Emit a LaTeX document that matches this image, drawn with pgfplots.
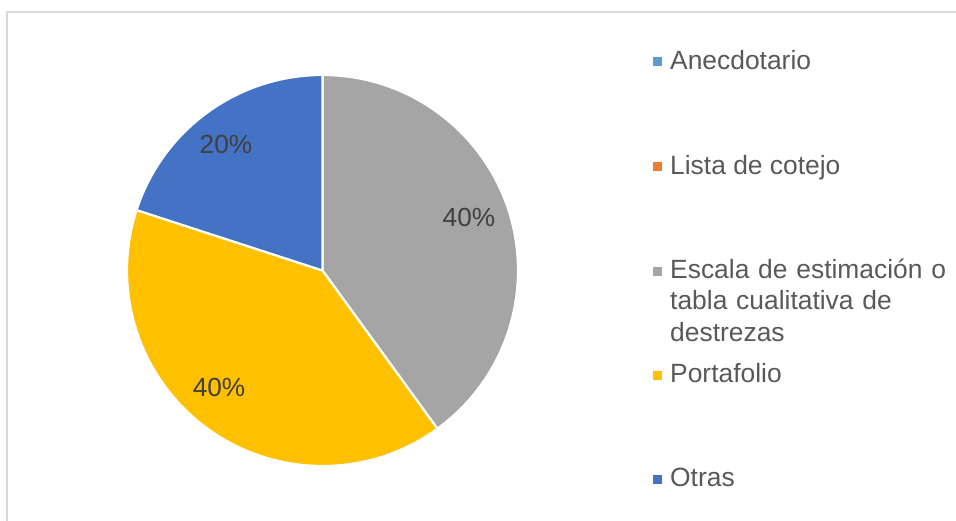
\documentclass[border=0pt]{standalone}
\usepackage{pgfplots}
\usepackage{pgfplotstable}
\pgfplotsset{compat=1.18}
\usepackage{fontspec}
\setmainfont{Liberation Sans}
\definecolor{cAnec}{HTML}{5B9BD5}
\definecolor{cLista}{HTML}{ED7D31}
\definecolor{cEscala}{HTML}{A5A5A5}
\definecolor{cPorta}{HTML}{FFC000}
\definecolor{cOtras}{HTML}{4472C4}
\definecolor{legtext}{HTML}{595959}
\definecolor{lbltext}{HTML}{404040}
\definecolor{frame}{HTML}{D9D9D9}

% share (%) of each instrument; slices drawn clockwise from 12 o'clock
\pgfplotstableread{
name      value
Anecdotario 0
Lista       0
Escala      40
Portafolio  40
Otras       20
}\piedata

\begin{document}
\begin{tikzpicture}[x=1pt,y=1pt]
\useasboundingbox (0,0) rectangle (956,521);
\fill[white] (0,0) rectangle (956,521);
\draw[frame, line width=1.6pt] (7,-5) -- (7,509) -- (962,509);

\pgfplotstablegetelem{2}{value}\of\piedata \let\vEsc\pgfplotsretval
\pgfplotstablegetelem{3}{value}\of\piedata \let\vPor\pgfplotsretval
\pgfplotstablegetelem{4}{value}\of\piedata \let\vOtr\pgfplotsretval
\pgfmathsetmacro{\aA}{90}
\pgfmathsetmacro{\aB}{\aA-3.6*\vEsc}
\pgfmathsetmacro{\aC}{\aB-3.6*\vPor}
\pgfmathsetmacro{\aD}{\aC-3.6*\vOtr}

\begin{axis}[
  at={(322.5pt,250.5pt)}, anchor=origin,
  x=195.5pt, y=195.5pt,
  xmin=-1, xmax=1, ymin=-1, ymax=1,
  hide axis, clip=false,
]
\addplot[fill=cEscala, draw=white, line width=2.2pt, line join=round]
  coordinates {(0,0) (0,1)}
  arc[start angle=\aA, end angle=\aB, radius=195.5pt] -- cycle;
\addplot[fill=cPorta, draw=white, line width=2.2pt, line join=round]
  coordinates {(0,0) (0.587785,-0.809017)}
  arc[start angle=\aB, end angle=\aC, radius=195.5pt] -- cycle;
\addplot[fill=cOtras, draw=white, line width=2.2pt, line join=round]
  coordinates {(0,0) (-0.951057,0.309017)}
  arc[start angle=\aC, end angle=\aD, radius=195.5pt] -- cycle;

\node[text=lbltext, font=\fontsize{26.2}{30}\selectfont, inner sep=0pt] at (axis cs:0.749,0.271) {\vEsc\%};
\node[text=lbltext, font=\fontsize{26.2}{30}\selectfont, inner sep=0pt] at (axis cs:-0.529,-0.596) {\vPor\%};
\node[text=lbltext, font=\fontsize{26.2}{30}\selectfont, inner sep=0pt] at (axis cs:-0.494,0.642) {\vOtr\%};
\end{axis}

% legend
\begin{scope}[every node/.style={anchor=base west, inner sep=0pt, text=legtext, font=\fontsize{26.4}{31.5}\selectfont}]
\fill[cAnec]   (652.5,454.5) rectangle ++(9,9);
\node at (670,451) {Anecdotario};
\fill[cLista]  (652.5,350) rectangle ++(9,9);
\node at (670,346.75) {Lista de cotejo};
\fill[cEscala] (652.5,245) rectangle ++(9,9);
\node[text width=290pt, align=left] at (670,242.5) {Escala de estimación o\\tabla cualitativa de\\destrezas};
\fill[cPorta]  (652.5,140.5) rectangle ++(9,9);
\node at (670,138.25) {Portafolio};
\fill[cOtras]  (652.5,37) rectangle ++(9,9);
\node at (670,34) {Otras};
\end{scope}
\end{tikzpicture}
\end{document}
